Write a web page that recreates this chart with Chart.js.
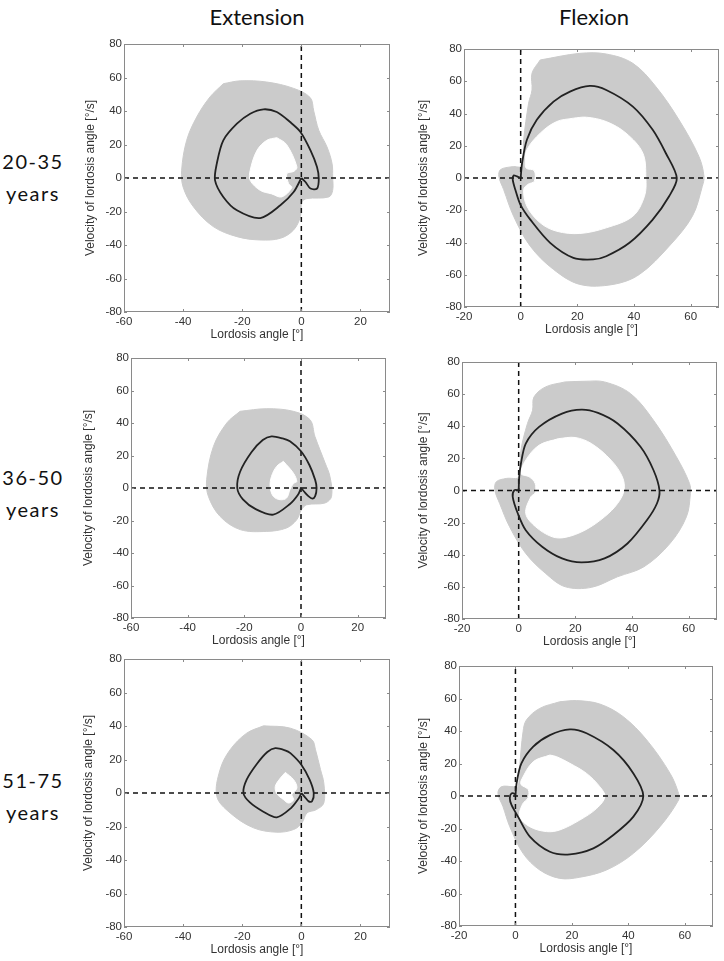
<!DOCTYPE html>
<html>
<head>
<meta charset="utf-8">
<script src="https://cdn.jsdelivr.net/npm/chart.js@4.4.1/dist/chart.umd.min.js"></script>
<style>
  body { margin: 0; background: #fff; width: 724px; height: 961px; position: relative; overflow: hidden; }
  canvas { position: absolute; }
  .col-title { position: absolute; top: 3px; font: 22px Lato, sans-serif; color: #111; line-height: 28px; transform: translateX(-50%); }
  .row-label { position: absolute; left: 0; width: 66px; text-align: center; font: 20px Lato, sans-serif; letter-spacing: 1.5px; line-height: 32px; color: #111; }
</style>
</head>
<body>
<div class="col-title" style="left:257px">Extension</div>
<div class="col-title" style="left:594px">Flexion</div>
<div class="row-label" style="top:145px">20-35<br>years</div>
<div class="row-label" style="top:461px">36-50<br>years</div>
<div class="row-label" style="top:764px">51-75<br>years</div>

<canvas id="p1"></canvas>
<canvas id="p2"></canvas>
<canvas id="p3"></canvas>
<canvas id="p4"></canvas>
<canvas id="p5"></canvas>
<canvas id="p6"></canvas>

<script>
// axis ranges and ticks
const extX = [-60, 30];
const flexX = [-20, 70];
const velY = [-80, 80];
const extTicksX = [-60, -40, -20, 0, 20];
const flexTicksX = [-20, 0, 20, 40, 60];
const velTicksY = [-80, -60, -40, -20, 0, 20, 40, 60, 80];

// Extension, 20-35 years
const ext1Outer = [[-26.4,56.3],[-20.7,58],[-11.7,57.3],[-2.6,53.5],[3,48],[4.2,40],[5.9,28.5],[8.7,18.5],[10.4,8.6],[10.6,0.6],[10.6,-7.4],[9.3,-11.3],[1.9,-12.3],[0.2,-14.3],[-0.3,-23],[-2.6,-31],[-7.1,-36],[-14,-37],[-21.8,-35],[-29.8,-29],[-36.6,-17],[-40,-5.4],[-40.5,4.6],[-38.8,22.5],[-35.4,36.4],[-30.9,48.4],[-26.4,56.3]];
const ext1Inner = [[-8.3,24.1],[-5,20],[-1.5,6.6],[-2.5,4],[-4.9,2.6],[-4.3,-3.4],[-3.2,-5.7],[-6.6,-11.3],[-10,-9.5],[-13.9,-7.4],[-17.3,-1.4],[-17.3,4.6],[-15,16.5],[-11.7,22.5],[-8.3,24.1]];
const ext1Mean = [[0,0],[-2.6,-8.4],[-7.1,-16.3],[-13.9,-23.9],[-21.8,-19.3],[-26.4,-11.3],[-29.2,-1.4],[-28.6,8.6],[-26.4,22.5],[-21.8,32.4],[-17.3,38.4],[-12.8,41],[-8.3,39.4],[-3.8,33.4],[-0.3,27.5],[3.1,16.5],[5.3,6.6],[5.9,-0.4],[5.3,-6.3],[3.1,-6.3],[1.4,-2.4],[0,0]];

// Flexion, 20-35 years
const flex1Outer = [[6.9,73.2],[20.9,77.3],[30.2,76.9],[39.6,71.1],[47.7,56.7],[55.9,36],[62.9,13.4],[64.7,1],[64.1,-5.2],[60.6,-23.7],[52.4,-42.3],[41.9,-59.8],[32.6,-66],[20.9,-66],[11.6,-56.7],[3.4,-42.3],[-2.5,-23.7],[-6,-7.2],[-7.7,1],[-7.1,5.2],[-3,7],[0.5,7.5],[1.05,23.7],[2.8,46.4],[4,54.6],[4,65],[6.9,73.2]];
const flex1Inner = [[18.6,37.1],[23.2,37.7],[30.2,35],[37.2,27.8],[43.1,15.5],[44.2,0],[43.7,-11.3],[39.6,-23.7],[30.2,-30.9],[20.9,-34.4],[12.7,-33],[6.9,-27.8],[2.2,-17.5],[1.05,-7.2],[2.5,-4],[4.8,-2],[4.8,4.5],[2,6],[1.6,9.3],[2.2,17.5],[6.9,27.8],[12.7,35],[18.6,37.1]];
const flex1Mean = [[0,0],[0.5,9.3],[2.2,23.7],[5.7,36.1],[11.6,47.4],[17.4,53.6],[24.4,57.1],[30.2,54.6],[39.6,44.3],[46.6,29.9],[51.2,15.5],[55.1,0],[52.4,-11.3],[46.6,-25.8],[38.4,-40.2],[30.2,-48.5],[25.6,-50.5],[18.6,-49.5],[10.4,-40.2],[3.4,-25.8],[-0.1,-16.5],[-1.9,-7.2],[-2.8,-1],[-2.5,1.6],[-1.3,1],[0,0]];

// Extension, 36-50 years
const ext2Outer = [[-21.5,47.2],[-12.1,48.8],[-2.7,47.2],[3.2,42],[4.9,31.8],[8.5,15.4],[10.2,7.2],[10.8,-5.1],[8.5,-9.2],[2,-10.3],[0.2,-13.3],[-1.5,-19.5],[-5.1,-24.6],[-12.1,-26.7],[-21.5,-25.6],[-28.6,-17.4],[-32.7,-5.1],[-33.3,5.1],[-30.9,25.6],[-26.2,40],[-21.5,47.2]];
const ext2Inner = [[-6.2,16.4],[-2.7,9.2],[-1.5,4],[-2.7,2.7],[-3.9,-1],[-5.1,-6.2],[-7.4,-7.2],[-9.8,-5.1],[-10.9,1],[-10.4,7.2],[-8.6,13.3],[-6.2,16.4]];
const ext2Mean = [[0,0],[-1,-4],[-4,-10],[-9.8,-16.4],[-16,-13],[-20.5,-7],[-22.5,0],[-21.5,10],[-17.5,22],[-13.5,29.5],[-10.4,31.8],[-6.5,30.5],[-3.9,28.7],[0,22.6],[3,14],[5,5],[5.5,0],[5,-5],[4,-6.5],[2.6,-5],[1,-2],[0,0]];

// Flexion, 36-50 years
const flex2Outer = [[16.4,67.6],[23.4,68],[30.3,67.6],[39.5,60.3],[47.6,43.7],[55.7,20.9],[60.3,4.4],[60.6,-1.9],[59.2,-16.4],[53.4,-33],[44.2,-47.5],[34.9,-53.7],[25.7,-60.3],[16.4,-59.9],[9.5,-51.6],[2.5,-39.2],[-3.2,-22.6],[-6.7,-8.1],[-8.4,0.2],[-7.9,5.4],[-4.4,7.5],[0.2,8.5],[0.8,25.1],[3.1,41.7],[4.9,49.9],[5.4,58.2],[9.5,64.5],[16.4,67.6]];
const flex2Inner = [[14.1,32.3],[19.9,33],[25.7,29.2],[32.6,18.9],[36.6,8.5],[37.2,0.2],[34.9,-8.1],[30.3,-16.4],[23.4,-24.7],[16.4,-29.2],[11.8,-28.8],[6,-22.6],[2.5,-14.3],[4.3,-3.9],[5.8,-1.5],[5.8,4.5],[3.7,8.5],[0.8,10.6],[2.5,18.9],[7.2,28.2],[14.1,32.3]];
const flex2Mean = [[0,0],[0.2,8.5],[0.8,16.8],[2.5,29.2],[7.2,39.6],[15.3,47.9],[22.2,50.4],[28,48.3],[34.9,41.7],[43,27.2],[47.6,12.6],[49.7,0],[48.8,-8.1],[45.3,-18.4],[38.4,-33],[30.3,-42.3],[22.2,-44.8],[15.3,-42.3],[8.3,-35],[2.5,-24.7],[-0.3,-14.3],[-2.1,-3.9],[-1.5,0.2],[0,0]];

// Extension, 51-75 years
const ext3Outer = [[-12.8,40.1],[-3.7,38.7],[3.6,31.8],[4.8,25.8],[6.5,13.9],[7.6,6],[7.6,-6],[5,-10],[1.9,-11.9],[0.2,-17.9],[-2.6,-21.8],[-8.3,-23.4],[-16.2,-20.8],[-24.1,-11.9],[-28.6,-2],[-27.5,13.9],[-24.1,25.8],[-18.5,35.7],[-12.8,40.1]];
const ext3Inner = [[-5.4,12.3],[-2.6,7.9],[-1.5,3],[-3.2,-1],[-2.6,-4],[-4.3,-6],[-6,-4],[-8.3,-0.4],[-8.8,4],[-7.1,8.9],[-5.4,12.3]];
const ext3Mean = [[0,0],[-0.8,-3],[-3.5,-9],[-8.3,-14.5],[-13,-11],[-17.5,-5.5],[-19.6,0],[-18.5,8],[-15,17.5],[-11.5,24.5],[-8.8,26.8],[-5.5,25.5],[-3.7,23.8],[0,16.9],[2.8,8],[4.2,0],[3.6,-5],[2.5,-5],[1,-2],[0,0]];

// Flexion, 51-75 years
const flex3Outer = [[15.7,58],[21.6,58.7],[29.9,56.6],[38.2,48.8],[46.5,34.5],[54.8,13.9],[57.8,1.6],[57.8,-2.5],[51.2,-18.9],[41.8,-35.3],[32.3,-45.5],[22.8,-50],[15.7,-50.7],[8.6,-45.5],[2.7,-35.3],[-2,-18.9],[-4.4,-6.6],[-6.2,1.6],[-5,5.7],[-0.8,5.7],[0.9,5.7],[1.5,18],[2.7,39.6],[3.9,46.8],[8.6,53.9],[15.7,58]];
const flex3Inner = [[12.2,25.2],[14.6,24.2],[19.3,20.1],[25.2,13.9],[29.9,5.7],[31.7,-0.4],[28.8,-7.6],[22.8,-14.8],[15.7,-20.9],[11,-21.9],[5.1,-18.9],[1.5,-12.7],[2.5,-5],[4.5,-1],[4.5,4],[2,7],[2.1,9.8],[6.3,21.1],[12.2,25.2]];
const flex3Mean = [[0,0],[0.4,7.8],[2.1,20.1],[6.3,30.4],[12.2,37.5],[19.3,41],[25.2,38.6],[34.7,28.3],[41.8,13.9],[45.3,0],[41.8,-12.7],[34.7,-24],[27.6,-32.2],[19.3,-35.9],[12.2,-34.3],[5.1,-25],[0.9,-12.7],[-1.4,-5.5],[-2,-1.4],[-1.4,1.6],[-0.2,1.2],[0,0]];

Chart.defaults.font.family = "'Liberation Sans', Arial, sans-serif";
Chart.defaults.animation = false;

// matlab-like box with inward ticks on all four sides
const boxFrame = {
    id: 'boxFrame',
    afterDatasetsDraw(chart) {
        const { ctx, chartArea: a, scales } = chart;
        ctx.save();
        ctx.strokeStyle = '#8a8a8a';
        ctx.lineWidth = 1;
        ctx.strokeRect(a.left + 0.5, a.top + 0.5, a.right - a.left - 1, a.bottom - a.top - 1);
        const len = 3;
        ctx.beginPath();
        scales.x.ticks.forEach(t => {
            const px = Math.round(scales.x.getPixelForValue(t.value)) + 0.5;
            ctx.moveTo(px, a.bottom); ctx.lineTo(px, a.bottom - len);
            ctx.moveTo(px, a.top); ctx.lineTo(px, a.top + len);
        });
        scales.y.ticks.forEach(t => {
            const py = Math.round(scales.y.getPixelForValue(t.value)) + 0.5;
            ctx.moveTo(a.left, py); ctx.lineTo(a.left + len, py);
            ctx.moveTo(a.right, py); ctx.lineTo(a.right - len, py);
        });
        ctx.stroke();
        ctx.restore();
    }
};

function makePanel(id, area, yTitleOffset, xRange, xTicks, outer, inner, mean) {
    const [L, T, R, B] = area;
    const padTop = 10, padRight = 5;
    const yW = yTitleOffset + 7;
    const xH = 30;
    const canvas = document.getElementById(id);
    canvas.width = (R - L) + yW + padRight;
    canvas.height = (B - T) + padTop + xH;
    canvas.style.left = (L - yW) + 'px';
    canvas.style.top = (T - padTop) + 'px';

    const band = { data: outer, showLine: true, fill: 'shape', backgroundColor: '#cbcbcb', borderColor: '#cbcbcb', borderWidth: 1, pointRadius: 0, tension: 0.35, order: 5 };
    const hole = { data: inner, showLine: true, fill: 'shape', backgroundColor: '#ffffff', borderColor: '#ffffff', borderWidth: 1, pointRadius: 0, tension: 0.35, order: 4 };
    const dashed = { showLine: true, borderColor: '#111', borderWidth: 1.5, borderDash: [5, 4], pointRadius: 0, fill: false, order: 3 };
    const hLine = Object.assign({}, dashed, { data: [[xRange[0], 0], [xRange[1], 0]] });
    const vLine = Object.assign({}, dashed, { data: [[0, velY[0]], [0, velY[1]]] });
    const curve = { data: mean, showLine: true, borderColor: '#222', borderWidth: 1.8, pointRadius: 0, tension: 0.3, fill: false, order: 1 };

    new Chart(canvas, {
        type: 'scatter',
        data: { datasets: [band, hole, hLine, vLine, curve] },
        options: {
            responsive: false,
            layout: { padding: { top: padTop, right: padRight, left: 0, bottom: 0 } },
            plugins: { legend: { display: false }, tooltip: { enabled: false } },
            scales: {
                x: {
                    type: 'linear', min: xRange[0], max: xRange[1],
                    afterBuildTicks: s => { s.ticks = xTicks.map(v => ({ value: v })); },
                    afterFit: s => { s.height = xH; },
                    grid: { display: false, drawTicks: false },
                    border: { display: false },
                    ticks: { color: '#333', font: { size: 11.5 }, padding: 3, autoSkip: false, maxRotation: 0 },
                    title: { display: true, text: 'Lordosis angle [°]', color: '#333', font: { size: 12 }, padding: 0 }
                },
                y: {
                    type: 'linear', min: velY[0], max: velY[1],
                    afterBuildTicks: s => { s.ticks = velTicksY.map(v => ({ value: v })); },
                    afterFit: s => { s.width = yW; },
                    grid: { display: false, drawTicks: false },
                    border: { display: false },
                    ticks: { color: '#333', font: { size: 11.5 }, padding: 2, autoSkip: false },
                    title: { display: true, text: 'Velocity of lordosis angle [°/s]', color: '#333', font: { size: 12 }, padding: 0 }
                }
            }
        },
        plugins: [boxFrame]
    });
}

makePanel('p1', [124, 44, 390, 312], 34, extX, extTicksX, ext1Outer, ext1Inner, ext1Mean);
makePanel('p2', [464, 49, 719, 307], 41, flexX, flexTicksX, flex1Outer, flex1Inner, flex1Mean);
makePanel('p3', [131, 358, 386, 618], 43, extX, extTicksX, ext2Outer, ext2Inner, ext2Mean);
makePanel('p4', [462, 362, 717, 619], 39, flexX, flexTicksX, flex2Outer, flex2Inner, flex2Mean);
makePanel('p5', [124, 659, 390, 927], 36, extX, extTicksX, ext3Outer, ext3Inner, ext3Mean);
makePanel('p6', [459, 666, 713, 926], 36, flexX, flexTicksX, flex3Outer, flex3Inner, flex3Mean);
</script>
</body>
</html>
